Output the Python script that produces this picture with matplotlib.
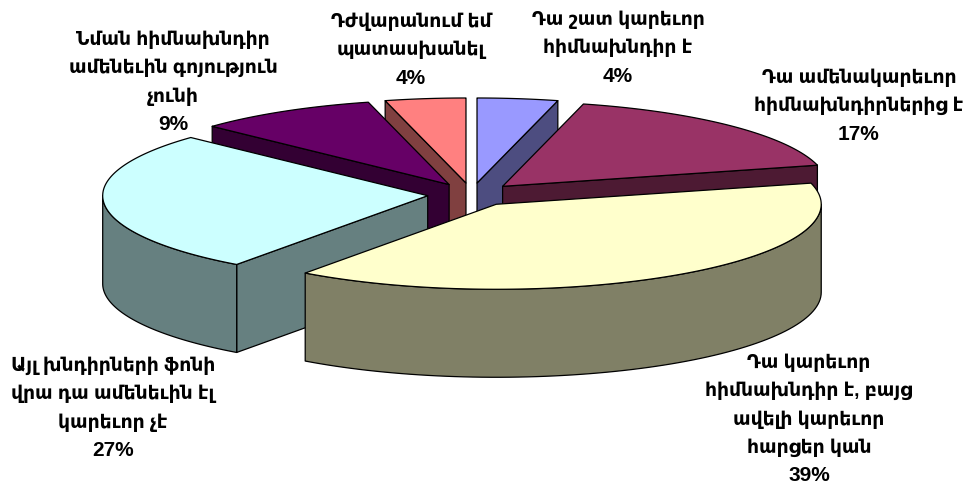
import numpy as np
import matplotlib
matplotlib.use('Agg')
import matplotlib.pyplot as plt
from matplotlib.patches import Polygon
from matplotlib.colors import to_rgb

# clockwise from 12 o'clock
values = [4, 17, 39, 27, 9, 4]
labels = [
    ['Դա շատ կարեւոր', 'հիմնախնդիր է'],
    ['Դա ամենակարեւոր', 'հիմնախնդիրներից է'],
    ['Դա կարեւոր', 'հիմնախնդիր է, բայց', 'ավելի կարեւոր', 'հարցեր կան'],
    ['Այլ խնդիրների ֆոնի', 'վրա դա ամենեւին էլ', 'կարեւոր չէ'],
    ['Նման հիմնախնդիր', 'ամենեւին գոյություն', 'չունի'],
    ['Դժվարանում եմ', 'պատասխանել'],
]
colors = ['#9999FF', '#993366', '#FFFFCC', '#CCFFFF', '#660066', '#FF8080']
label_top = [(618, 20), (859, 78), (809, 363), (113, 366), (173, 40), (411, 22)]

# pie geometry in pixels
CX, CY = 471.5, 194.6
RX, RY = 325, 85
EXPLODE_X, EXPLODE_Y = 44, 11.7
DEPTH = 88
LINE_GAP = 28.2
DRAW_ORDER = [0, 5, 4, 1, 3, 2]

plt.rcParams['font.family'] = ['Liberation Sans', 'DejaVu Sans']

fig = plt.figure(figsize=(9.69, 4.90), dpi=100)
ax = fig.add_axes([0, 0, 1, 1])
ax.set_xlim(0, 969)
ax.set_ylim(490, 0)
ax.axis('off')

edges = np.cumsum([0] + values) / sum(values) * 360


def rim(ax0, ay0, deg):
    t = np.radians(deg)
    return np.column_stack([ax0 + RX * np.sin(t), ay0 - RY * np.cos(t)])


def face(pts, col, z):
    ax.add_patch(Polygon(pts, closed=True, facecolor=col, edgecolor='black',
                         linewidth=0.9, joinstyle='round', zorder=z))


for z, i in enumerate(DRAW_ORDER):
    a0, a1 = edges[i], edges[i + 1]
    mid = np.radians((a0 + a1) / 2)
    ox = CX + EXPLODE_X * np.sin(mid)
    oy = CY - EXPLODE_Y * np.cos(mid)
    side = tuple(c * 0.5 for c in to_rgb(colors[i]))
    down = np.array([0, DEPTH])
    apex = np.array([ox, oy])

    # cut faces, only the ones turned to the viewer
    if a0 >= 180:
        p = rim(ox, oy, np.array([a0]))[0]
        face([apex, p, p + down, apex + down], side, z * 10)
    if a1 <= 180:
        p = rim(ox, oy, np.array([a1]))[0]
        face([apex, p, p + down, apex + down], side, z * 10)

    # outer wall, front part only
    w0, w1 = max(a0, 90), min(a1, 270)
    if w1 > w0:
        arc = rim(ox, oy, np.linspace(w0, w1, 80))
        face(np.vstack([arc, (arc + down)[::-1]]), side, z * 10 + 1)

    # top
    arc = rim(ox, oy, np.linspace(a0, a1, 120))
    face(np.vstack([apex, arc]), colors[i], z * 10 + 2)

for lab, val, (x, y) in zip(labels, values, label_top):
    for k, line in enumerate(lab):
        ax.text(x, y + k * LINE_GAP, line, ha='center', va='center', fontsize=13.5,
                fontweight='bold', color='black', zorder=100)
    ax.text(x, y + len(lab) * LINE_GAP, f'{val}%', ha='center', va='center', fontsize=15,
            fontweight='bold', color='black', zorder=100)

fig.savefig('out.png', dpi=100)
